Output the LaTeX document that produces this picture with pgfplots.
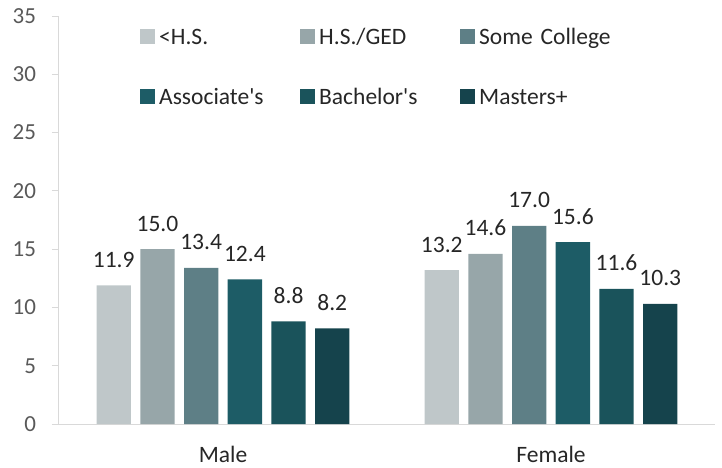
\documentclass[border=0pt]{standalone}
\usepackage{pgfplots}
\pgfplotsset{compat=1.18}
\usepackage{fontspec}
\setmainfont{Carlito}
\definecolor{c1}{HTML}{BFC7C9}
\definecolor{c2}{HTML}{97A6A9}
\definecolor{c3}{HTML}{5E7F86}
\definecolor{c4}{HTML}{1D5C66}
\definecolor{c5}{HTML}{1A535B}
\definecolor{c6}{HTML}{15434C}
\definecolor{axln}{HTML}{D9D9D9}
\definecolor{tick}{HTML}{595959}
\definecolor{txt}{HTML}{262626}
\begin{document}
\fontsize{23.5}{28}\selectfont
\begin{tikzpicture}
\path[use as bounding box] (-59pt,-43pt) rectangle (663pt,424pt);
\begin{axis}[
  at={(0pt,0pt)}, anchor=south west,
  scale only axis, width=656pt, height=408pt,
  ymin=0, ymax=35, ytick={0,5,...,35},
  xmin=-0.5, xmax=1.5, xtick={0,1}, xticklabels={Male,Female},
  axis y line*=left, axis x line*=bottom,
  axis line style={draw=axln, line width=1pt},
  y tick style={draw=axln, line width=1pt},
  x tick style={draw=none},
  major tick length=7pt, tick align=outside,
  /pgf/number format/assume math mode=true,
  yticklabel style={font=\fontsize{23}{28}\selectfont, text=tick, xshift=-8pt},
  xticklabel style={font=\fontsize{23.5}{28}\selectfont, text=txt, yshift=-7pt},
  ybar=9.4pt, bar width=34.3pt,
  nodes near coords={\pgfmathprintnumber[fixed,fixed zerofill,precision=1,assume math mode=true]{\pgfplotspointmeta}},
  nodes near coords style={font=\fontsize{23.5}{28}\selectfont, text=txt, anchor=base, yshift=18pt},
  point meta=y,
  legend columns=3,
  legend cell align=left,
  legend image code/.code={\fill[#1, draw=none] (0pt,-5.5pt) rectangle (15pt,9.5pt);},
  legend style={at={(axis description cs:0,1)}, anchor=north west, xshift=81pt, yshift=-12pt,
    draw=none, fill=none, inner sep=0pt, row sep=39pt,
    font=\fontsize{23.5}{28}\selectfont,
    nodes={text width=136pt, align=left, inner xsep=4pt, inner ysep=0pt, text height=16pt, text depth=5pt, text=txt},
    /tikz/every even column/.append style={column sep=1pt}},
  clip=false,
]
\addplot[fill=c1, draw=none] coordinates {(0,11.9) (1,13.2)};
\addplot[fill=c2, draw=none] coordinates {(0,15.0) (1,14.6)};
\addplot[fill=c3, draw=none] coordinates {(0,13.4) (1,17.0)};
\addplot[fill=c4, draw=none] coordinates {(0,12.4) (1,15.6)};
\addplot[fill=c5, draw=none] coordinates {(0,8.8) (1,11.6)};
\addplot[fill=c6, draw=none] coordinates {(0,8.2) (1,10.3)};
\legend{<H.S., H.S./GED, Some College, Associate\textquotesingle s, Bachelor\textquotesingle s, Masters+}
\end{axis}
\end{tikzpicture}
\end{document}
